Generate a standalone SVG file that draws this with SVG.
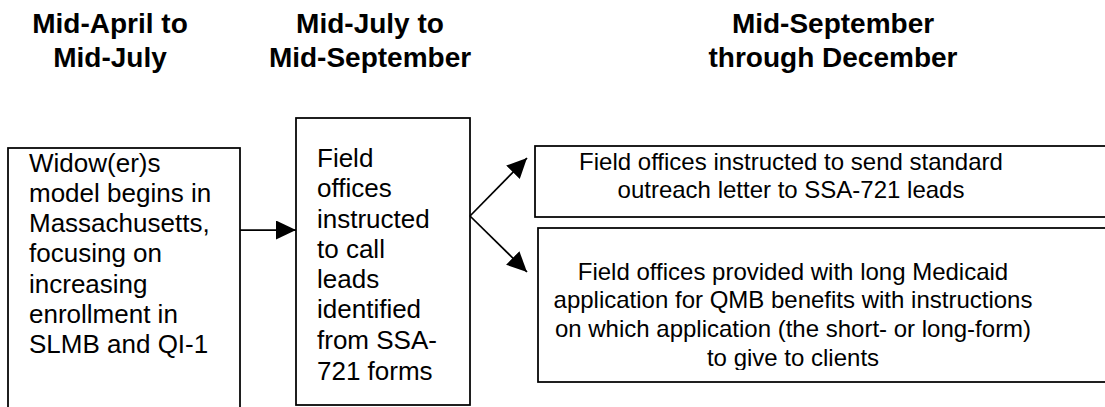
<svg xmlns="http://www.w3.org/2000/svg" width="1105" height="407" viewBox="0 0 1105 407">
<style>
.hdr{font-family:"Liberation Sans",Arial,sans-serif;font-weight:bold;font-size:28px;fill:#000;text-anchor:middle}
.body{font-family:"Liberation Sans",Arial,sans-serif;font-size:26px;fill:#000}
.rbody{font-family:"Liberation Sans",Arial,sans-serif;font-size:24px;fill:#000;text-anchor:middle}
.box{fill:#fff;stroke:#000;stroke-width:1.75}
.conn{stroke:#000;stroke-width:1.75;fill:none}
</style>
<defs>
<marker id="ah" markerUnits="userSpaceOnUse" markerWidth="21" markerHeight="19" refX="20" refY="9.5" orient="auto">
<path d="M0,0 L20,9.5 L0,19 z" fill="#000"/>
</marker>
<clipPath id="clipB"><rect x="538" y="228" width="600" height="142"/></clipPath>
</defs>
<rect width="1105" height="407" fill="#fff"/>
<g id="headers">
<text class="hdr" x="110" y="33">Mid-April to</text>
<text class="hdr" x="110" y="67">Mid-July</text>
<text class="hdr" x="370" y="33">Mid-July to</text>
<text class="hdr" x="370" y="67">Mid-September</text>
<text class="hdr" x="833" y="33">Mid-September</text>
<text class="hdr" x="833" y="67">through December</text>
</g>
<g id="node1">
<rect class="box" x="8" y="148" width="232" height="260"/>
<text class="body" x="29" y="172">Widow(er)s</text>
<text class="body" x="29" y="202">model begins in</text>
<text class="body" x="29" y="232">Massachusetts,</text>
<text class="body" x="29" y="262">focusing on</text>
<text class="body" x="29" y="293">increasing</text>
<text class="body" x="29" y="323">enrollment in</text>
<text class="body" x="29" y="353">SLMB and QI-1</text>
</g>
<g id="node2">
<rect class="box" x="296" y="118" width="174" height="287"/>
<text class="body" x="317" y="167">Field</text>
<text class="body" x="317" y="197">offices</text>
<text class="body" x="317" y="228">instructed</text>
<text class="body" x="317" y="258">to call</text>
<text class="body" x="317" y="288">leads</text>
<text class="body" x="317" y="318">identified</text>
<text class="body" x="317" y="349">from SSA-</text>
<text class="body" x="317" y="380">721 forms</text>
</g>
<g id="node3">
<rect class="box" x="535" y="146" width="580" height="71"/>
<text class="rbody" x="791" y="170">Field offices instructed to send standard</text>
<text class="rbody" x="791" y="198">outreach letter to SSA-721 leads</text>
</g>
<g id="node4">
<rect class="box" x="538" y="228" width="580" height="154"/>
<g clip-path="url(#clipB)">
<text class="rbody" x="793" y="280">Field offices provided with long Medicaid</text>
<text class="rbody" x="793" y="308">application for QMB benefits with instructions</text>
<text class="rbody" x="793" y="337">on which application (the short- or long-form)</text>
<text class="rbody" x="793" y="366">to give to clients</text>
</g>
</g>
<g id="connectors">
<line class="conn" x1="240" y1="230" x2="296" y2="230" marker-end="url(#ah)"/>
<line class="conn" x1="470" y1="216" x2="527" y2="158" marker-end="url(#ah)"/>
<line class="conn" x1="470" y1="216" x2="527" y2="272" marker-end="url(#ah)"/>
</g>
</svg>
